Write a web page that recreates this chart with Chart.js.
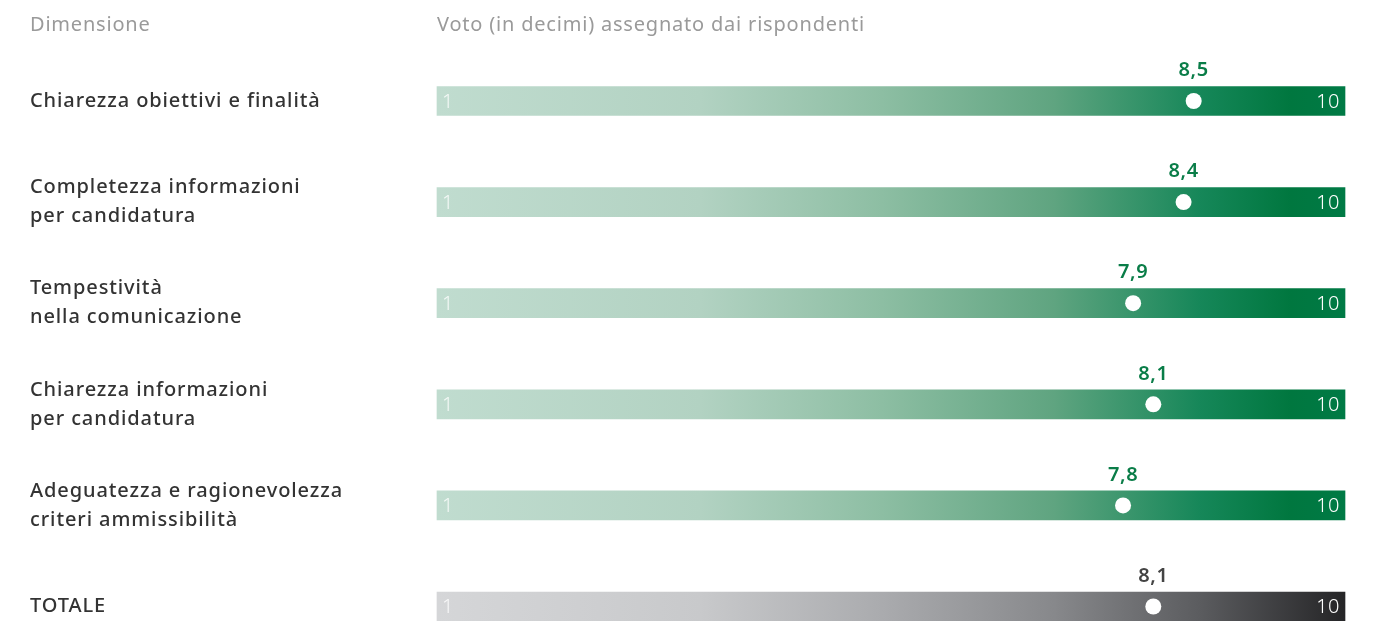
<!DOCTYPE html>
<html>
<head>
<meta charset="utf-8">
<script src="https://cdn.jsdelivr.net/npm/chart.js@4"></script>
<style>
    body { margin: 0; background: #fff; }
    #wrap { width: 1373px; height: 621px; }
</style>
</head>
<body>
<div id="wrap"><canvas id="voteChart" width="1373" height="621"></canvas></div>
<script>
// Dati
const dimensioni = [
    'Chiarezza obiettivi e finalità',
    ['Completezza informazioni', 'per candidatura'],
    ['Tempestività', 'nella comunicazione'],
    ['Chiarezza informazioni', 'per candidatura'],
    ['Adeguatezza e ragionevolezza', 'criteri ammissibilità'],
    'TOTALE'
];
const voti = [8.5, 8.4, 7.9, 8.1, 7.8, 8.1];
const scalaMin = 1;
const scalaMax = 10;
const titoloDimensione = 'Dimensione';
const titoloVoto = 'Voto (in decimi) assegnato dai rispondenti';

const FONT = '"Noto Sans", sans-serif';
const labelKeys = dimensioni.map((d, i) => i);
const isTotale = i => i === dimensioni.length - 1;

// Gradient per riga
function barGradient(ctx) {
    const chart = ctx.chart;
    const area = chart.chartArea;
    if (!area) return '#bbb';
    const g = chart.ctx.createLinearGradient(area.left, 0, area.right, 0);
    if (isTotale(ctx.dataIndex)) {
        g.addColorStop(0, '#d5d6d8');
        g.addColorStop(0.29, '#c8c9cb');
        g.addColorStop(0.49, '#aaabae');
        g.addColorStop(0.68, '#87888b');
        g.addColorStop(0.84, '#5b5c5f');
        g.addColorStop(1, '#252527');
    } else {
        g.addColorStop(0, '#c0dccf');
        g.addColorStop(0.29, '#b2d2c2');
        g.addColorStop(0.49, '#8dbea3');
        g.addColorStop(0.68, '#5fa480');
        g.addColorStop(0.84, '#168759');
        g.addColorStop(0.94, '#00773f');
        g.addColorStop(1, '#007a45');
    }
    return g;
}

// Spaziatura lettere (il font originale e' piu' largo)
const spacingPlugin = {
    id: 'spacingPlugin',
    beforeDraw(chart) {
        chart.ctx.letterSpacing = '0.9px';
    }
};

// Testi: intestazioni, etichette valore, estremi scala
const textPlugin = {
    id: 'textPlugin',
    afterDatasetsDraw(chart) {
        const c = chart.ctx;
        const area = chart.chartArea;
        c.save();
        c.letterSpacing = '0.8px';
        c.textBaseline = 'middle';
        c.fillStyle = '#9a9a9a';
        c.font = '20px ' + FONT;
        c.textAlign = 'left';
        c.fillText(titoloDimensione, 30, 25);
        c.fillText(titoloVoto, area.left, 25);

        const bars = chart.getDatasetMeta(0).data;
        const dots = chart.getDatasetMeta(1).data;
        bars.forEach((bar, i) => {
            const top = bar.y - bar.height / 2;
            c.letterSpacing = '0.5px';
            c.font = '300 20px ' + FONT;
            c.fillStyle = 'rgba(255,255,255,0.8)';
            c.textAlign = 'left';
            c.fillText(String(scalaMin), bar.base + 5, bar.y + 1);
            c.fillStyle = '#ffffff';
            c.textAlign = 'right';
            c.fillText(String(scalaMax), bar.x - 5, bar.y + 1);

            c.letterSpacing = '0.6px';
            c.font = '600 20px ' + FONT;
            c.textAlign = 'center';
            c.fillStyle = isTotale(i) ? '#444444' : '#0a7d48';
            c.fillText(voti[i].toFixed(1).replace('.', ','), dots[i].x, top - 16);
        });
        c.restore();
    }
};

new Chart(document.getElementById('voteChart'), {
    type: 'bar',
    data: {
        labels: labelKeys,
        datasets: [{
            type: 'bar',
            data: labelKeys.map(() => [scalaMin, scalaMax]),
            backgroundColor: barGradient,
            barThickness: 29,
            borderSkipped: false,
            clip: false,
            order: 2
        }, {
            type: 'scatter',
            data: voti.map((v, i) => ({ x: v, y: i })),
            pointRadius: 8,
            pointHoverRadius: 8,
            pointBackgroundColor: '#ffffff',
            pointBorderWidth: 0,
            clip: false,
            order: 1
        }]
    },
    options: {
        indexAxis: 'y',
        responsive: false,
        animation: false,
        layout: { padding: { left: 30, right: 28, top: 101, bottom: 13 } },
        plugins: {
            legend: { display: false },
            tooltip: { enabled: false }
        },
        scales: {
            x: {
                type: 'linear',
                min: scalaMin,
                max: scalaMax,
                display: false
            },
            y: {
                type: 'category',
                offset: false,
                grid: { display: false },
                border: { display: false },
                afterFit(scale) { scale.width = 407; },
                ticks: {
                    callback: (v, i) => dimensioni[i],
                    crossAlign: 'far',
                    padding: 0,
                    color: '#333333',
                    font: { family: FONT, size: 20, weight: '500', lineHeight: 1.45 }
                }
            }
        }
    },
    plugins: [spacingPlugin, textPlugin]
});
</script>
</body>
</html>
